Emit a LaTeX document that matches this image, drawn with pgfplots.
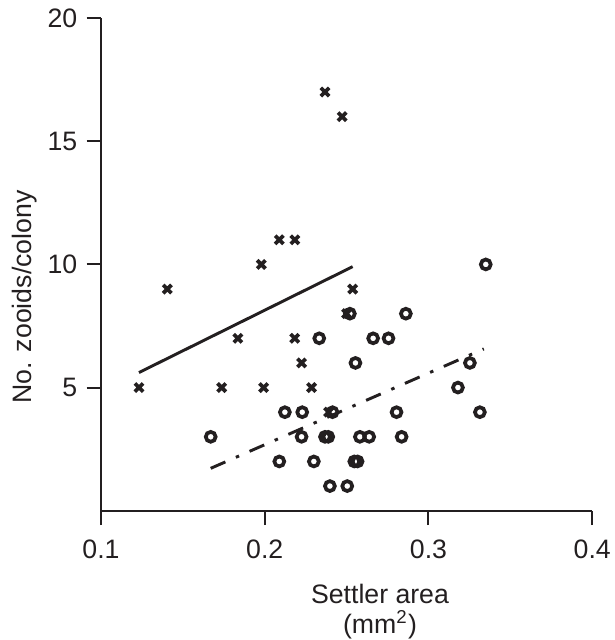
\documentclass[border=0pt]{standalone}
\usepackage{fontspec}
\setmainfont{Liberation Sans}
\usepackage{pgfplots}
\pgfplotsset{compat=1.18}
\definecolor{ink}{RGB}{35,31,32}

\pgfplotstableread{
x y
0.1232 5
0.1405 9
0.1737 5
0.1836 7
0.1979 10
0.1993 5
0.2089 11
0.2184 11
0.2183 7
0.2225 6
0.2286 5
0.2368 17
0.2473 16
0.2500 8
0.2537 9
0.2390 4
}\crosses

\pgfplotstableread{
x y
0.3350 10
0.2520 8
0.2862 8
0.2333 7
0.2662 7
0.2756 7
0.2554 6
0.3253 6
0.3180 5
0.2123 4
0.2229 4
0.2414 4
0.2805 4
0.3314 4
0.1670 3
0.2225 3
0.2368 3
0.2388 3
0.2581 3
0.2638 3
0.2836 3
0.2089 2
0.2300 2
0.2547 2
0.2567 2
0.2398 1
0.2504 1
}\circles

\begin{document}
\begin{tikzpicture}
\begin{axis}[
 name=ax,
 width=184.2pt, height=184.7pt, scale only axis,
 xmin=0.1, xmax=0.4, ymin=0, ymax=20,
 clip=false,
 axis lines=left,
 axis line style={ink, line width=0.75pt, -},
 xtick={0.1,0.2,0.3,0.4}, ytick={5,10,15,20},
 xticklabels={0.1,0.2,0.3,0.4},
 tick align=outside, major tick length=5.4pt,
 tick style={ink, line width=0.75pt},
 every tick label/.append style={font=\fontsize{10}{12}\selectfont, text=ink},
 xticklabel style={yshift=-2pt},
 /pgf/number format/assume math mode=true,
 xlabel={Settler area\\(mm\textsuperscript{2})},
 xlabel style={align=center, at={(axis description cs:0.568,-0.2047)}, anchor=center, font=\fontsize{10}{11.4}\selectfont, text=ink},
 ylabel={No. zooids/colony},
 ylabel style={at={(axis description cs:-0.1547,0.434)}, anchor=center, font=\fontsize{10}{12}\selectfont, text=ink},
]
\addplot[only marks, mark=x, mark size=2.2pt, mark options={line width=1.4pt, ink}] table {\crosses};
\addplot[only marks, mark=o, mark size=1.85pt, mark options={line width=1.4pt, ink}] table {\circles};
\addplot[ink, line width=1.1pt, line cap=butt] coordinates {(0.1232,5.61) (0.2537,9.91)};
\addplot[ink, line width=1.1pt, line cap=butt, dash pattern=on 6pt off 4.3pt on 1.3pt off 4.3pt] coordinates {(0.1670,1.72) (0.3338,6.57)};
\end{axis}
\pgfresetboundingbox
\path[use as bounding box] (ax.south west) ++(-37.875pt,-48.49pt) rectangle ++(230.25pt,240pt);
\end{tikzpicture}
\end{document}
